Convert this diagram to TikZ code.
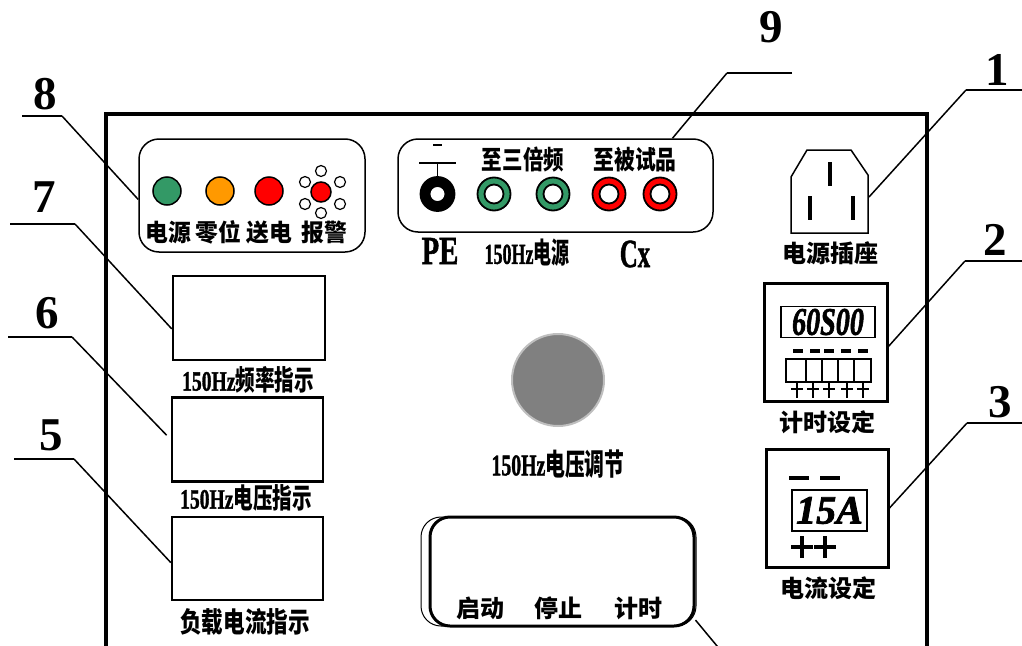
\documentclass[tikz,border=0pt]{standalone}
\usepackage{fontspec}
\setmainfont[BoldFeatures={FakeBold=1.5},BoldItalicFeatures={FakeBold=2}]{Liberation Serif}
\newfontfamily\numfont{Liberation Serif}
\newfontfamily\cjkfont[BoldFont={Noto Sans CJK SC Black}]{Noto Sans CJK SC}
\definecolor{ledgreen}{HTML}{339966}
\definecolor{ledorange}{HTML}{FF9900}
\tikzset{
	lab/.style={inner sep=0pt,font=\cjkfont\bfseries\fontsize{24}{24}\selectfont},
	num/.style={inner sep=0pt,font=\numfont\bfseries\fontsize{47}{47}\selectfont},
	leader/.style={line width=1.5pt},
	panel/.style={draw,line width=1.5pt,rounded corners=20pt,inner sep=0pt},
	dispbox/.style={draw,line width=2.5pt,inner sep=0pt,minimum width=151pt,minimum height=84pt},
	led/.style={circle,draw,line width=1.5pt,inner sep=0pt,minimum size=28pt},
	tiny/.style={circle,draw,line width=1.2pt,fill=white,inner sep=0pt,minimum size=11pt},
	jack/.style={circle,draw,line width=1.8pt,inner sep=0pt,minimum size=33pt},
	hole/.style={circle,draw,line width=1.8pt,fill=white,inner sep=0pt,minimum size=19pt},
	bar/.style={line width=4pt}
}
\newcommand{\narrow}[2]{\scalebox{#1}[1]{#2}}
\newcommand{\hz}{\textrm{\bfseries 150Hz}}
\begin{document}
\begin{tikzpicture}[x=1pt,y=-1pt]
	\useasboundingbox (0,0) rectangle (1022,645);
	\clip (0,0) rectangle (1022,645);

	% outer case
	\draw[line width=4pt] (106,660) -- (106,114) -- (927,114) -- (927,660);

	% indicator lamps
	\node[panel,minimum width=226pt,minimum height=113pt] (leds) at (252,195.5) {};
	\node[led,fill=ledgreen] (ledpower) at (167,191) {};
	\node[led,fill=ledorange] (ledzero) at (220,191) {};
	\node[led,fill=red] (ledsend) at (269,191) {};
	\foreach \x/\y/\n in {321/171/a,305/182/b,340/182/c,305/204/d,340/204/e,321/213/f}
		\node[tiny] (alarm\n) at (\x,\y) {};
	\node[circle,draw,line width=1.5pt,fill=red,inner sep=0pt,minimum size=20pt] (ledalarm) at (321,192) {};
	\node[lab] (tpower) at (168,232) {\narrow{.95}{电源}};
	\node[lab] (tzero) at (218,232) {\narrow{.95}{零位}};
	\node[lab] (tsend) at (269,232) {\narrow{.95}{送电}};
	\node[lab] (talarm) at (324,232) {\narrow{.95}{报警}};

	% terminals
	\node[panel,minimum width=315pt,minimum height=93pt] (terms) at (555.5,185.5) {};
	\node[jack,fill=black,minimum size=34pt] (pe) at (437.5,194) {};
	\node[hole,minimum size=16pt] at (437.5,194) {};
	\foreach \x/\c/\n in {494/ledgreen/a,553/ledgreen/b,609/red/c,660/red/d}{
		\node[jack,fill=\c] (jack\n) at (\x,194) {};
		\node[hole] at (\x,194) {};
	}
	\coordinate (gnd) at (437.5,163);
	\draw[line width=1.5pt] (419,163) -- (456,163);
	\draw[line width=1.5pt] (433,145) -- (442,145);
	\draw[line width=1.5pt] (gnd) -- (pe);
	\node[lab] at (523,160) {\narrow{.79}{\fontsize{26}{26}\selectfont 至三倍频}};
	\node[lab] at (635,160) {\narrow{.8}{\fontsize{26}{26}\selectfont 至被试品}};
	\node[lab] at (440,251) {\narrow{.72}{\fontsize{40}{40}\selectfont\rmfamily\bfseries PE}};
	\node[lab] at (527,253) {\narrow{.62}{\fontsize{29}{29}\selectfont\hz 电源}};
	\node[lab] at (635,254) {\narrow{.62}{\fontsize{40}{40}\selectfont\rmfamily\bfseries Cx}};

	% power socket
	\draw[line width=1.5pt] (791,233) -- (791,177) -- (807,150) -- (851,150) -- (868,175) -- (868,233) -- cycle;
	\draw[line width=3.5pt] (830,162) -- (830,186);
	\draw[line width=3.5pt] (810,196) -- (810,220);
	\draw[line width=3.5pt] (853,196) -- (853,220);
	\coordinate (socket) at (869,197);
	\node[lab] at (830,253) {电源插座};

	% timer
	\node[draw,line width=3pt,inner sep=0pt,minimum width=123pt,minimum height=118pt] (timer) at (825.5,342) {};
	\node[draw,line width=1.5pt,inner sep=0pt,minimum width=94pt,minimum height=31pt,
		font=\bfseries\itshape\fontsize{39}{39}\selectfont] (timeshow) at (828,322) {\narrow{.72}{60S00}};
	\foreach \x in {798,815,829,846,863}
		\draw[bar] (\x-5,351) -- (\x+5,351);
	\foreach \x/\w/\n in {796/20/a,814/16/b,830/16/c,846/16/d,862.5/17/e}
		\node[draw,line width=1.5pt,inner sep=0pt,minimum width=\w pt,minimum height=23pt] (key\n) at (\x,370.5) {};
	\foreach \x in {797,813,829,847,863}{
		\draw[line width=2.5pt] (\x,382) -- (\x,398);
		\draw[line width=2.5pt] (\x-6,389) -- (\x+6,389);
	}
	\node[lab] at (827,422) {计时设定};

	% current setting
	\node[draw,line width=3pt,inner sep=0pt,minimum width=122pt,minimum height=118pt] (current) at (827,508) {};
	\node[draw,line width=1.5pt,inner sep=0pt,minimum width=75pt,minimum height=41pt,
		font=\bfseries\itshape\fontsize{40}{40}\selectfont] (currentshow) at (829.5,510.5) {15A};
	\draw[bar] (789,478) -- (809,478);
	\draw[bar] (820,478) -- (840,478);
	\foreach \x in {802,825}{
		\draw[bar] (\x-11,547) -- (\x+11,547);
		\draw[bar] (\x,536) -- (\x,558);
	}
	\node[lab] at (828,588) {电流设定};

	% left meters
	\node[dispbox,minimum width=152pt] (disp7) at (249,318) {};
	\node[dispbox] (disp6) at (247.5,439.5) {};
	\node[dispbox,minimum height=83pt] (disp5) at (247.5,558.5) {};
	\node[lab] at (248,380) {\narrow{.7}{\fontsize{28}{28}\selectfont\hz 频率指示}};
	\node[lab] at (246,498) {\narrow{.7}{\fontsize{28}{28}\selectfont\hz 电压指示}};
	\node[lab] at (245,622) {\narrow{.77}{\fontsize{28}{28}\selectfont 负载电流指示}};

	% knob
	\node[circle,draw=gray!50,fill=gray,line width=2pt,inner sep=0pt,minimum size=92pt] (knob) at (558,380) {};
	\node[lab] at (558,464) {\narrow{.66}{\fontsize{30}{30}\selectfont\hz 电压调节}};

	% buttons
	\node[panel,line width=1pt,minimum width=275pt,minimum height=109pt] (backplate) at (558.5,571.5) {};
	\node[panel,fill=white,line width=3pt,minimum width=264pt,minimum height=109pt] (buttons) at (562,571.5) {};
	\node[lab] at (480,608) {启动};
	\node[lab] at (558,608) {停止};
	\node[lab] at (638,608) {计时};

	% numbered leaders
	\foreach \n/\x/\y/\ax/\ay/\bx/\by in {8/45/94/22/116/62/116,7/44/197/10/224/75/224,6/47/313/8/337/72/337,5/51/435/14/459/74/459,9/771/27/792/73/727/73,1/997/70/1022/90/966/90,2/995/240/1022/261/965/261,3/1000/402/1022/423/967/423}{
		\node[num] (n\n) at (\x,\y) {\n};
		\coordinate (a\n) at (\ax,\ay);
		\coordinate (b\n) at (\bx,\by);
		\draw[leader] (a\n) -- (b\n);
	}
	\coordinate (bottomend) at (722,652);
	\draw[leader] (b8) -- (leds.182);
	\draw[leader] (b7) -- (disp7.188);
	\draw[leader,shorten >=6pt] (b6) -- (disp6.180);
	\draw[leader] (b5) -- (disp5.183);
	\draw[leader] (b9) -- (terms.22);
	\draw[leader] (b1) -- (socket);
	\draw[leader] (b2) -- (timer.356);
	\draw[leader] (b3) -- (current.east);
	\draw[leader] (buttons.340) -- (bottomend);
\end{tikzpicture}
\end{document}
